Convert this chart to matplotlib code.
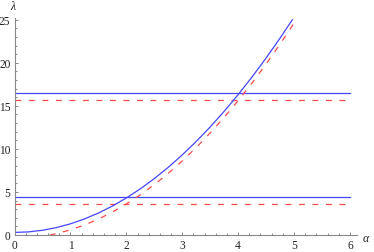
import numpy as np
import matplotlib
matplotlib.use('Agg')
import matplotlib.pyplot as plt
from matplotlib.ticker import MultipleLocator

# curves
alpha_blue = [0, 0.25, 0.5, 0.75, 1, 1.25, 1.5, 1.75, 2, 2.25, 2.5, 2.75,
              3, 3.25, 3.5, 3.75, 4, 4.25, 4.5, 4.75, 4.97]
lam_blue = [0.30, 0.36, 0.55, 0.86, 1.30, 1.86, 2.55, 3.36, 4.30, 5.36, 6.55,
            7.86, 9.30, 10.86, 12.55, 14.36, 16.30, 18.36, 20.55, 22.86, 25.0]

alpha_red = [0.63, 0.75, 1, 1.25, 1.5, 1.75, 2, 2.25, 2.5, 2.75, 3, 3.25,
             3.5, 3.75, 4, 4.25, 4.5, 4.75, 5.0, 5.05]
lam_red = [0.0, 0.16, 0.60, 1.16, 1.85, 2.66, 3.60, 4.66, 5.85, 7.16, 8.60,
           10.16, 11.85, 13.66, 15.60, 17.66, 19.85, 22.16, 24.60, 25.0]

# horizontal levels
levels_blue = [4.4, 16.45]
levels_red = [3.6, 15.7]

blue = '#4646ff'
red = '#ff4a4a'
dash = (4.7, 6.1)

fig = plt.figure(figsize=(3.74, 2.53), dpi=100)
ax = fig.add_axes([0.039, 0.0672, 0.916, 0.856])

for lv in levels_blue:
    ax.plot([0, 6], [lv, lv], color=blue, lw=0.9)
for lv in levels_red:
    ax.plot([0, 6], [lv, lv], color=red, lw=0.9, dashes=dash)
ax.plot(alpha_blue, lam_blue, color=blue, lw=0.9)
ax.plot(alpha_red, lam_red, color=red, lw=0.9, dashes=dash)

ax.set_xlim(0, 6.13)
ax.set_ylim(0, 25.15)

for s in ['top', 'right']:
    ax.spines[s].set_visible(False)
for s in ['left', 'bottom']:
    ax.spines[s].set_color('#888888')
    ax.spines[s].set_linewidth(0.8)

ax.xaxis.set_major_locator(MultipleLocator(1))
ax.xaxis.set_minor_locator(MultipleLocator(0.2))
ax.yaxis.set_major_locator(MultipleLocator(5))
ax.yaxis.set_minor_locator(MultipleLocator(1))
ax.tick_params(which='both', direction='in', color='#888888', width=0.7,
               labelsize=8.3, pad=3)
ax.tick_params(which='major', length=2.5)
ax.tick_params(which='minor', length=1.4)
for lab in ax.get_xticklabels() + ax.get_yticklabels():
    lab.set_fontfamily('Liberation Serif')
    lab.set_color('#222222')

fig.text(13 / 374, 1 - 7 / 253, 'λ', family='Liberation Serif', style='italic',
         fontsize=8.5, ha='center', va='center', color='#222222')
fig.text(366 / 374, 1 - 239 / 253, 'α', family='Liberation Serif', style='italic',
         fontsize=8.5, ha='center', va='center', color='#222222')

fig.savefig('out.png', dpi=100)
